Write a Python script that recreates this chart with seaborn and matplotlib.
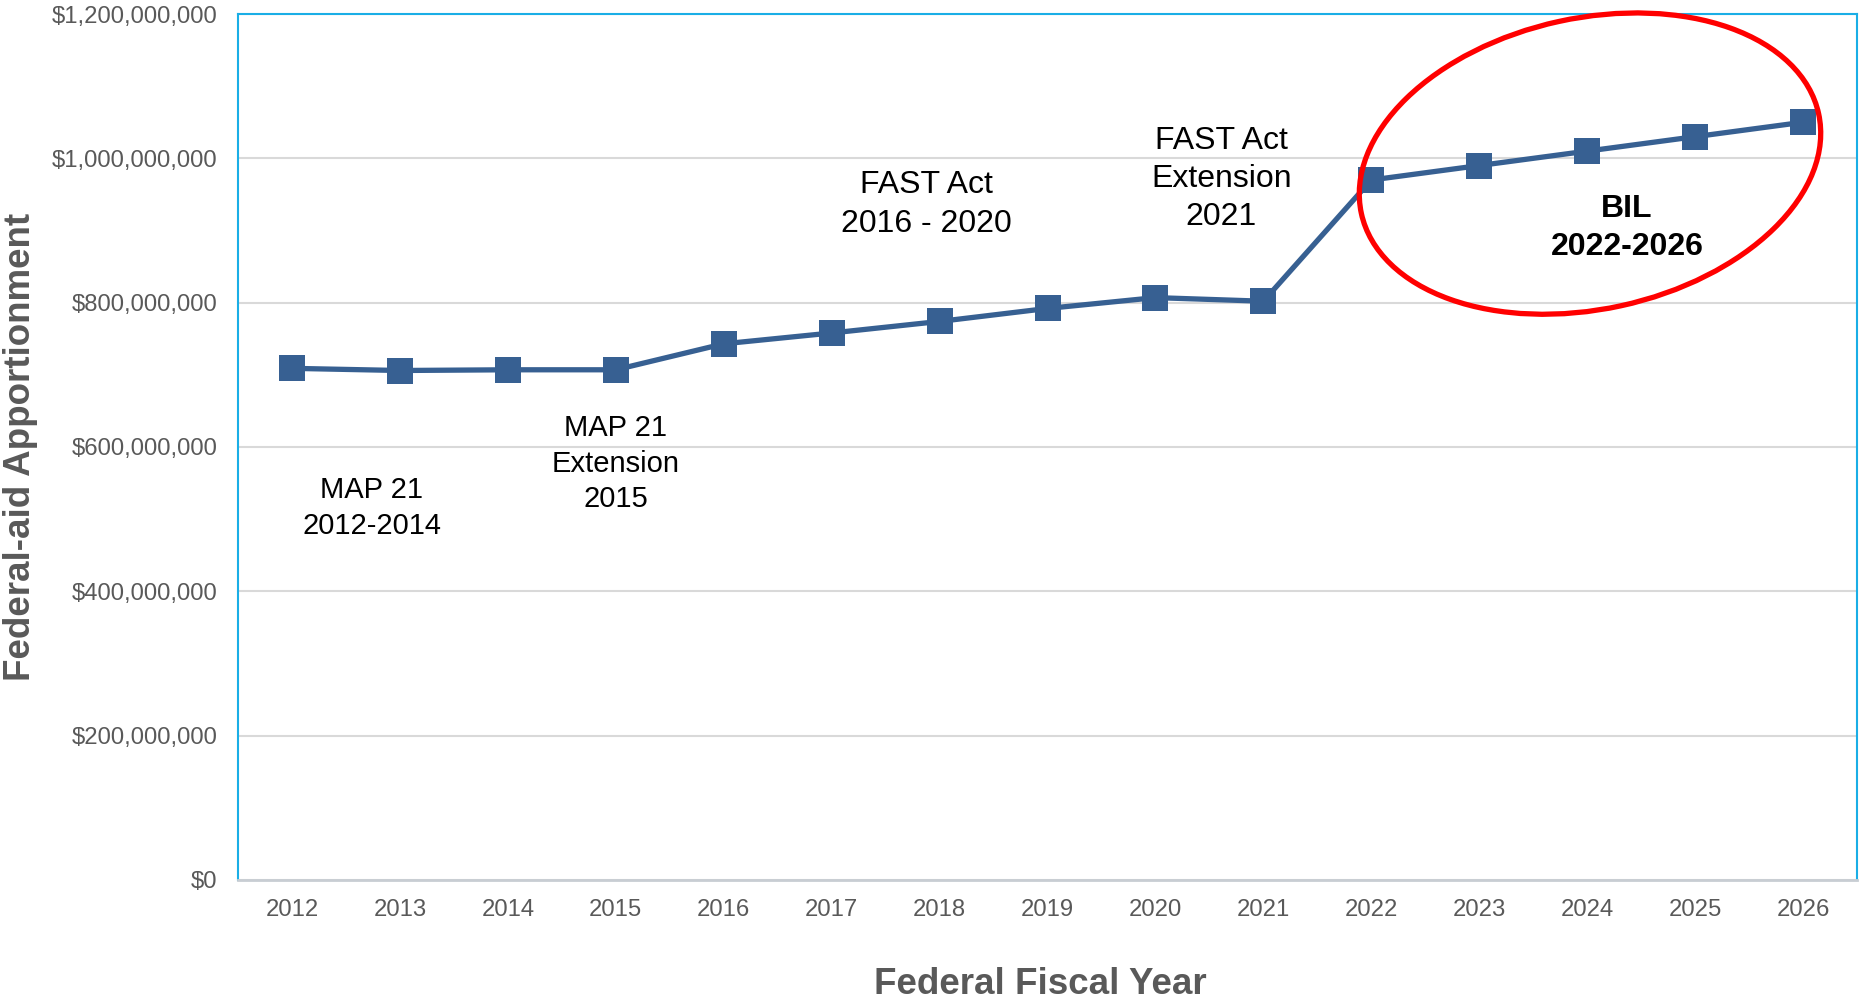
import matplotlib
matplotlib.use("Agg")
import matplotlib.pyplot as plt
import seaborn as sns
import pandas as pd
from matplotlib.patches import Ellipse
from matplotlib.ticker import FuncFormatter

years = ["2012", "2013", "2014", "2015", "2016", "2017", "2018", "2019",
         "2020", "2021", "2022", "2023", "2024", "2025", "2026"]
apportionment = [709e6, 706e6, 707e6, 707e6, 743e6, 758e6, 774e6, 792e6,
                 807e6, 802e6, 970e6, 990e6, 1010e6, 1030e6, 1050e6]
y_ticks = [0, 200e6, 400e6, 600e6, 800e6, 1000e6, 1200e6]

period_labels = ["MAP 21\n2012-2014", "MAP 21\nExtension\n2015", "FAST Act\n2016 - 2020",
                 "FAST Act\nExtension\n2021", "BIL\n2022-2026"]
period_x = [0.74, 3.0, 5.88, 8.61, 12.37]
period_y = [515e6, 577e6, 936e6, 971e6, 904e6]

df = pd.DataFrame({"year": years, "value": apportionment})

sns.set_theme(style="white")
plt.rcParams["font.family"] = ["Liberation Sans", "DejaVu Sans"]

fig = plt.figure(figsize=(18.59, 10.02), dpi=100)
ax = fig.add_axes([238 / 1859, 122 / 1002, 1619 / 1859, 866 / 1002])

line_color = "#376092"
sns.lineplot(data=df, x="year", y="value", ax=ax, color=line_color, linewidth=3.8,
             marker="s", markersize=19, markeredgecolor=line_color, markeredgewidth=0,
             sort=False)

ax.set_xlim(-0.5, len(years) - 0.5)
ax.set_ylim(0, 1200e6)
ax.set_yticks(y_ticks)
ax.yaxis.set_major_formatter(FuncFormatter(lambda v, p: "${:,.0f}".format(v)))
ax.grid(axis="y", color="#D9D9D9", linewidth=1.5)
ax.set_axisbelow(True)

ax.tick_params(axis="both", length=0, labelsize=17.2, labelcolor="#595959")
ax.tick_params(axis="y", pad=15)
ax.tick_params(axis="x", pad=14)

for side in ["left", "top", "right"]:
    ax.spines[side].set_color("#1AAEE6")
    ax.spines[side].set_linewidth(1.5)
ax.spines["bottom"].set_color("#C8CDD3")
ax.spines["bottom"].set_linewidth(2)

ax.set_xlabel("")
ax.set_ylabel("")
fig.text(1040 / 1859, 1 - 984 / 1002, "Federal Fiscal Year", ha="center", va="center",
         fontsize=26.5, fontweight="bold", color="#595959")
fig.text(21 / 1859, 1 - 447 / 1002, "Federal-aid Apportionment", ha="center", va="center",
         rotation=90, fontsize=26.5, fontweight="bold", color="#595959")

sizes = [21, 21, 23, 23, 23]
weights = ["normal", "normal", "normal", "normal", "bold"]
for lab, xx, yy, s, w in zip(period_labels, period_x, period_y, sizes, weights):
    ax.text(xx, yy, lab, ha="center", va="center", fontsize=s, fontweight=w,
            color="black", linespacing=1.35)

ell = Ellipse((15.90, 8.384), width=4.68, height=2.91, angle=12.3,
              transform=fig.dpi_scale_trans, fill=False, edgecolor="#FF0000",
              linewidth=3.8, clip_on=False)
fig.add_artist(ell)

fig.savefig("out.png", dpi=100)
